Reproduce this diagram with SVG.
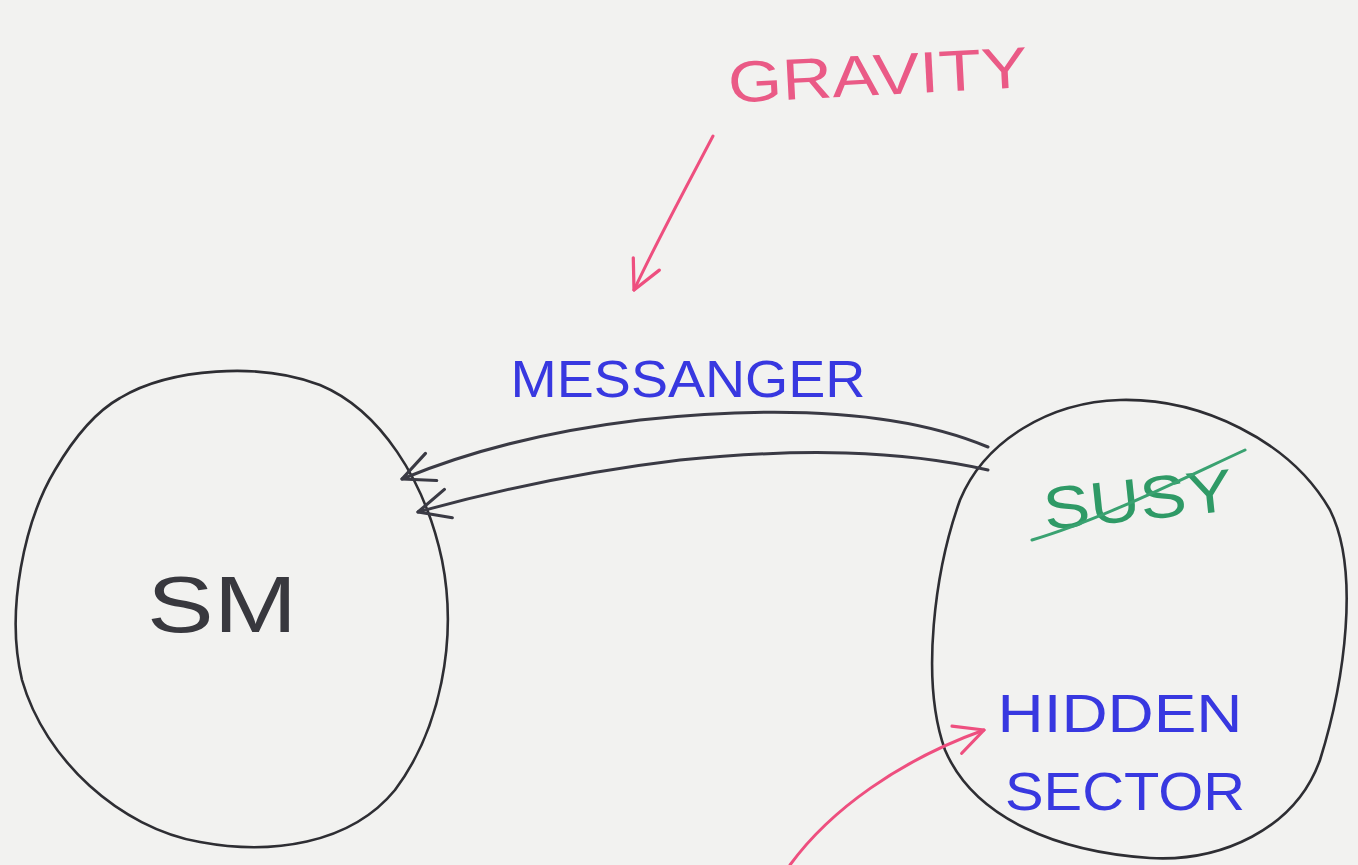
<svg xmlns="http://www.w3.org/2000/svg" width="1358" height="865" viewBox="0 0 1358 865">
<style>
.bg{fill:#f2f2f0}
.circ{fill:none;stroke:#2e2e33;stroke-width:2.6;stroke-linecap:round}
.ink{fill:none;stroke-width:3;stroke-linecap:round;stroke-linejoin:round}
.blk{stroke:#3a3a44}
.pink{stroke:#ee4f7f}
.green{stroke:#3aa271}
.t{font-family:"Liberation Sans","DejaVu Sans",sans-serif;font-weight:normal}
.tpink{fill:#ea5a86}
.tblue{fill:#3838e0}
.tgreen{fill:#2f9a66}
.tdark{fill:#38383e}
</style>
<defs>
<marker id="chev" viewBox="0 0 20 20" refX="18" refY="10" markerWidth="42" markerHeight="42" markerUnits="userSpaceOnUse" orient="auto">
<path d="M3 3 L18 10 L3 17" fill="none" stroke="#3a3a44" stroke-width="1.5" stroke-linecap="round" stroke-linejoin="round"/>
</marker>
<marker id="chevp" viewBox="0 0 20 20" refX="18" refY="10" markerWidth="36" markerHeight="36" markerUnits="userSpaceOnUse" orient="auto">
<path d="M2 2 L18 10 L2 18" fill="none" stroke="#ee4f7f" stroke-width="1.8" stroke-linecap="round" stroke-linejoin="round"/>
</marker>
</defs>
<rect class="bg" x="0" y="0" width="1358" height="865"/>

<g id="node-sm">
<path class="circ" d="M120 398 C170 368 260 362 320 385 C380 410 425 480 442 560 C458 640 440 730 395 790 C350 845 270 855 200 842 C120 828 45 760 22 680 C5 610 25 520 55 470 C75 436 95 412 120 398 Z"/>
<text class="t tdark" x="222" y="632" font-size="80" text-anchor="middle" textLength="150" lengthAdjust="spacingAndGlyphs">SM</text>
</g>

<g id="node-hidden">
<path class="circ" d="M1120 400 C1200 398 1290 440 1330 510 C1360 570 1345 680 1320 760 C1295 830 1220 862 1150 858 C1060 852 975 820 945 750 C920 680 935 570 960 500 C985 440 1050 402 1120 400 Z"/>
<g transform="translate(1140 520) rotate(-6)">
<text class="t tgreen" x="0" y="0" font-size="60" text-anchor="middle" textLength="190" lengthAdjust="spacingAndGlyphs">SUSY</text>
</g>
<path class="ink green" d="M1032 540 C1100 520 1180 480 1245 450"/>
<text class="t tblue" x="1120" y="732" font-size="54" text-anchor="middle" textLength="245" lengthAdjust="spacingAndGlyphs">HIDDEN</text>
<text class="t tblue" x="1125" y="810" font-size="54" text-anchor="middle" textLength="240" lengthAdjust="spacingAndGlyphs">SECTOR</text>
</g>

<g id="label-gravity">
<text class="t tpink" x="878" y="95" font-size="58" text-anchor="middle" textLength="300" lengthAdjust="spacingAndGlyphs" transform="rotate(-3 878 80)">GRAVITY</text>
</g>

<g id="label-messanger">
<text class="t tblue" x="688" y="397" font-size="52" text-anchor="middle" textLength="355" lengthAdjust="spacingAndGlyphs">MESSANGER</text>
</g>

<g id="connectors">
<path class="ink blk" marker-end="url(#chev)" d="M988 447 C900 410 780 405 640 420 C540 432 460 455 402 479"/>
<path class="ink blk" marker-end="url(#chev)" d="M988 470 C900 450 800 448 680 460 C580 472 490 492 418 512"/>
<path class="ink pink" marker-end="url(#chevp)" d="M713 136 C690 180 660 235 634 290"/>
<path class="ink pink" marker-end="url(#chevp)" d="M790 865 C830 810 900 760 984 730"/>
</g>
</svg>
